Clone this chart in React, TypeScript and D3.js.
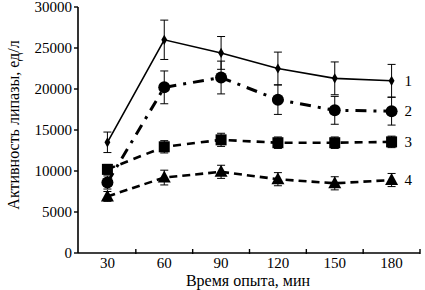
import React from "react";
import * as d3 from "d3";

const times = [30, 60, 90, 120, 150, 180];
const s1 = [13500, 26000, 24400, 22500, 21300, 21000];
const e1 = [1250, 2400, 2000, 2000, 2000, 2000];
const s2 = [8600, 20200, 21400, 18700, 17400, 17300];
const e2 = [800, 2000, 2000, 1800, 1700, 1700];
const s3 = [10200, 12950, 13800, 13450, 13450, 13550];
const e3 = [600, 750, 800, 700, 700, 700];
const s4 = [6900, 9200, 9900, 9000, 8500, 8900];
const e4 = [600, 900, 800, 800, 800, 800];
const seriesLabels = ["1", "2", "3", "4"];
const yTicks = [0, 5000, 10000, 15000, 20000, 25000, 30000];
const xMinorTicks = [45, 75, 105, 135, 165, 195];

const W = 425;
const H = 290;
const font = "'Liberation Serif', 'Times New Roman', serif";

export default function App() {
  const x = d3.scaleLinear().domain([15, 195]).range([79, 420]);
  const y = d3.scaleLinear().domain([0, 30000]).range([253, 7]);
  const line = (vals: number[]) =>
    d3.line<number>().x((_, i) => x(times[i])).y((v) => y(v))(vals) || "";

  const series = [
    { vals: s1, err: e1, dash: "", width: 1.6, marker: "diamond" },
    { vals: s2, err: e2, dash: "11,7,3,7", width: 3, marker: "circle" },
    { vals: s3, err: e3, dash: "8,6", width: 2.6, marker: "square" },
    { vals: s4, err: e4, dash: "8,5", width: 2.6, marker: "triangle" },
  ];

  const marker = (type: string, cx: number, cy: number, key: string) => {
    if (type === "diamond")
      return <path key={key} d={d3.symbol(d3.symbolDiamond, 30)()!} transform={`translate(${cx},${cy})`} fill="#000" />;
    if (type === "circle") return <circle key={key} cx={cx} cy={cy} r={6} fill="#000" />;
    if (type === "square")
      return <rect key={key} x={cx - 5.5} y={cy - 5.5} width={11} height={11} fill="#000" />;
    return <path key={key} d={`M${cx},${cy - 7}L${cx + 6.5},${cy + 5}L${cx - 6.5},${cy + 5}Z`} fill="#000" />;
  };

  return (
    <svg width={W} height={H} style={{ position: "absolute", left: 0, top: 0, background: "#fff" }}>
      {/* axes */}
      <line x1={78} x2={78} y1={7} y2={253} stroke="#000" strokeWidth={1.6} />
      <line x1={78} x2={420} y1={253} y2={253} stroke="#000" strokeWidth={1.6} />
      {yTicks.map((t) => (
        <g key={t}>
          <line x1={74} x2={78} y1={y(t)} y2={y(t)} stroke="#000" strokeWidth={1.4} />
          <text x={72} y={y(t)} dy="0.35em" textAnchor="end" fontFamily={font} fontSize={15}>
            {t}
          </text>
        </g>
      ))}
      {xMinorTicks.map((t) => (
        <line key={t} x1={x(t)} x2={x(t)} y1={249} y2={254} stroke="#000" strokeWidth={1.4} />
      ))}
      {times.map((t) => (
        <text key={t} x={x(t)} y={268} textAnchor="middle" fontFamily={font} fontSize={15}>
          {t}
        </text>
      ))}
      <text x={248} y={286} textAnchor="middle" fontFamily={font} fontSize={16}>
        Время опыта, мин
      </text>
      <text
        transform="translate(19,125) rotate(-90)"
        textAnchor="middle"
        fontFamily={font}
        fontSize={16}
      >
        Активность липазы, ед/л
      </text>
      {/* series */}
      {series.map((s, si) => (
        <g key={si}>
          <path d={line(s.vals)} fill="none" stroke="#000" strokeWidth={s.width} strokeDasharray={s.dash} />
          {s.vals.map((v, i) => {
            const cx = x(times[i]);
            const top = y(v + s.err[i]);
            const bot = y(v - s.err[i]);
            return (
              <g key={i}>
                <line x1={cx} x2={cx} y1={top} y2={bot} stroke="#000" strokeWidth={1} />
                <line x1={cx - 4} x2={cx + 4} y1={top} y2={top} stroke="#000" strokeWidth={1} />
                <line x1={cx - 4} x2={cx + 4} y1={bot} y2={bot} stroke="#000" strokeWidth={1} />
              </g>
            );
          })}
          {s.vals.map((v, i) => marker(s.marker, x(times[i]), y(v), `m${i}`))}
          <text
            x={x(times[5]) + 13}
            y={y(s.vals[5])}
            dy="0.35em"
            fontFamily={font}
            fontSize={15}
          >
            {seriesLabels[si]}
          </text>
        </g>
      ))}
    </svg>
  );
}
